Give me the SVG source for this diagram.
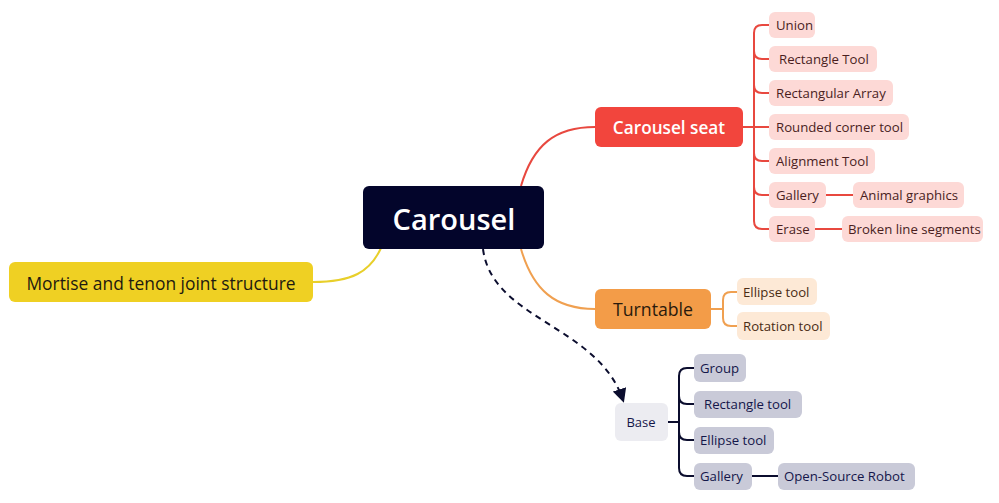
<svg xmlns="http://www.w3.org/2000/svg" width="999" height="503" viewBox="0 0 999 503">
<style>
text{font-family:"Open Sans",Lato,"DejaVu Sans",sans-serif;dominant-baseline:central}
.c{text-anchor:middle}
.red rect{fill:#fdd9d6}
.red text{fill:#4a1e1e;font-size:13.2px}
.org rect{fill:#fde9d6}
.org text{fill:#4a2c14;font-size:13.2px}
.gry rect{fill:#c9cad8}
.gry text{fill:#14164a;font-size:13.2px}
.ln{fill:none;stroke-width:2}
</style>
<defs>
<marker id="ah" viewBox="0 0 10 10" refX="8" refY="5" markerWidth="7" markerHeight="7" orient="auto"><path d="M0,0 L10,5 L0,10 z" fill="#0b0d2e"/></marker>
</defs>
<g id="connectors">
<path class="ln" d="M313,282 C352,282 370,272 381,248" stroke="#e8cf2a" stroke-width="2.5"/>
<path class="ln" d="M521,186 C533,145 555,127 595,127" stroke="#e8483f" stroke-width="2.5"/>
<path class="ln" d="M521,249 C533,290 555,309 595,309" stroke="#f0a050" stroke-width="2.5"/>
<path class="ln" d="M483,249 C492,320 598,325 623,400" stroke="#0b0d2e" stroke-dasharray="6,5" marker-end="url(#ah)"/>
<g stroke="#e8483f" class="ln">
<path d="M743,127 H754"/>
<path d="M769,25 H762 Q754,25 754,33 V221 Q754,229 762,229 H769"/>
<path d="M754,51 Q754,59 762,59 H769"/>
<path d="M754,85 Q754,93 762,93 H769"/>
<path d="M754,127 H769"/>
<path d="M754,153 Q754,161 762,161 H769"/>
<path d="M754,187 Q754,195 762,195 H769"/>
<path d="M826,195 H853"/>
<path d="M815,229 H842"/>
</g>
<g stroke="#f0a050" class="ln">
<path d="M711,309 H723"/>
<path d="M737,292 H731 Q723,292 723,300 V318 Q723,326 731,326 H737"/>
</g>
<g stroke="#0b0d2e" class="ln" stroke-width="2.5">
<path d="M668,422 H679"/>
<path d="M694,368 H687 Q679,368 679,376 V468 Q679,476 687,476 H694"/>
<path d="M679,396 Q679,404 687,404 H694"/>
<path d="M679,432 Q679,440 687,440 H694"/>
<path d="M752,476 H778"/>
</g>
</g>
<g id="carousel"><rect x="363" y="186" width="181" height="63" rx="6" fill="#03052b"/><text class="c" x="454" y="218" fill="#fff" font-size="29" font-weight="600">Carousel</text></g>
<g id="mortise"><rect x="9" y="262" width="304" height="40" rx="6" fill="#efd023"/><text class="c" x="161" y="283" fill="#1e1a10" font-size="17.4">Mortise and tenon joint structure</text></g>
<g id="seat"><rect x="595" y="107" width="148" height="40" rx="6" fill="#f2453d"/><text class="c" x="669" y="127" fill="#fff" font-size="17.2" font-weight="600">Carousel seat</text></g>
<g id="turntable"><rect x="595" y="289" width="116" height="40" rx="6" fill="#f39c48"/><text class="c" x="653" y="309" fill="#2a1a0c" font-size="17.7">Turntable</text></g>
<g id="base"><rect x="615" y="403" width="53" height="38" rx="6" fill="#ececf1"/><text class="c" x="641" y="422" fill="#14164a" font-size="13">Base</text></g>
<g class="red">
<g id="union"><rect x="769" y="12" width="46" height="26" rx="6"/><text x="776" y="25">Union</text></g>
<g id="recttool"><rect x="769" y="46" width="108" height="26" rx="6"/><text x="779" y="59">Rectangle Tool</text></g>
<g id="rectarray"><rect x="769" y="80" width="124" height="26" rx="6"/><text x="776" y="93">Rectangular Array</text></g>
<g id="rounded"><rect x="769" y="114" width="140" height="26" rx="6"/><text x="776" y="127">Rounded corner tool</text></g>
<g id="align"><rect x="769" y="148" width="106" height="26" rx="6"/><text x="776" y="161">Alignment Tool</text></g>
<g id="gallery1"><rect x="769" y="182" width="57" height="26" rx="6"/><text x="776" y="195">Gallery</text></g>
<g id="animal"><rect x="853" y="182" width="111" height="26" rx="6"/><text x="860" y="195">Animal graphics</text></g>
<g id="erase"><rect x="769" y="216" width="46" height="26" rx="6"/><text x="776" y="229">Erase</text></g>
<g id="broken"><rect x="842" y="216" width="141" height="26" rx="6"/><text x="848" y="229">Broken line segments</text></g>
</g>
<g class="org">
<g id="ellipse1"><rect x="737" y="278" width="80" height="27" rx="6"/><text x="743" y="292">Ellipse tool</text></g>
<g id="rotation"><rect x="737" y="312" width="93" height="28" rx="6"/><text x="743" y="326">Rotation tool</text></g>
</g>
<g class="gry">
<g id="group"><rect x="694" y="354" width="52" height="28" rx="6"/><text x="700" y="368">Group</text></g>
<g id="recttool2"><rect x="694" y="391" width="108" height="27" rx="6"/><text x="704" y="404">Rectangle tool</text></g>
<g id="ellipse2"><rect x="694" y="427" width="80" height="27" rx="6"/><text x="700" y="440">Ellipse tool</text></g>
<g id="gallery2"><rect x="694" y="463" width="58" height="27" rx="6"/><text x="700" y="476">Gallery</text></g>
<g id="robot"><rect x="778" y="463" width="137" height="27" rx="6"/><text x="784" y="476">Open-Source Robot</text></g>
</g>
</svg>
